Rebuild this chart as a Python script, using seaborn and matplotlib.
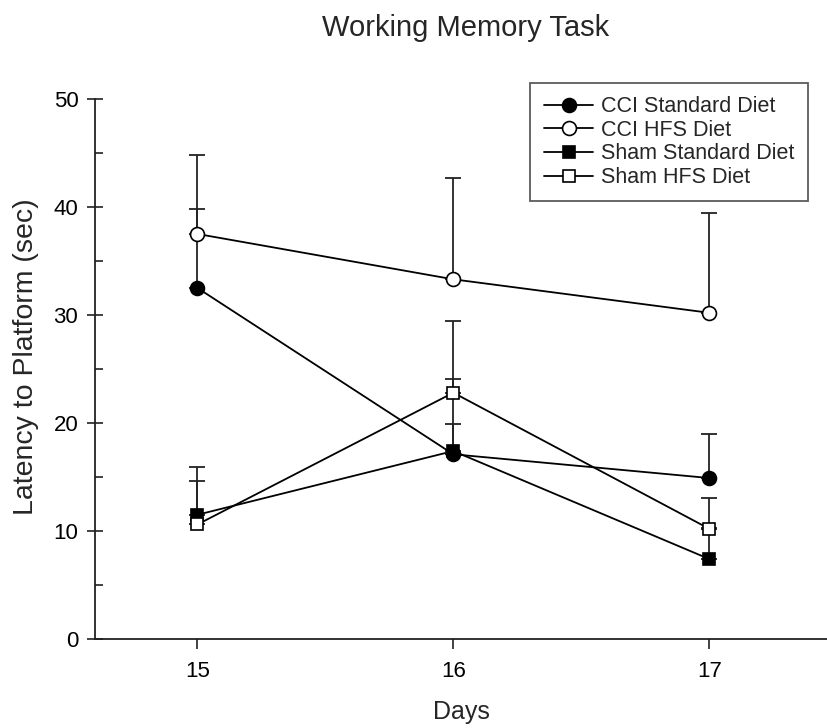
import numpy as np
import pandas as pd
import seaborn as sns
import matplotlib.pyplot as plt

# data
days = [15, 16, 17]
cci_std = [32.5, 17.1, 14.9]
cci_std_sem = [7.3, 7.0, 4.1]
cci_hfs = [37.5, 33.3, 30.2]
cci_hfs_sem = [7.3, 9.35, 9.2]
sham_std = [11.5, 17.4, 7.4]
sham_std_sem = [4.45, 2.5, 2.9]
sham_hfs = [10.6, 22.8, 10.2]
sham_hfs_sem = [4.05, 6.6, 2.85]

groups = ['CCI Standard Diet', 'CCI HFS Diet', 'Sham Standard Diet', 'Sham HFS Diet']
means = [cci_std, cci_hfs, sham_std, sham_hfs]
sems = [cci_std_sem, cci_hfs_sem, sham_std_sem, sham_hfs_sem]
markers = ['o', 'o', 's', 's']
faces = ['black', 'white', 'black', 'white']
msizes = [10, 10, 9, 9]

df = pd.DataFrame({
    'Days': np.tile(days, len(groups)),
    'Latency': np.concatenate(means),
    'SEM': np.concatenate(sems),
    'Group': np.repeat(groups, len(days)),
})

sns.set_theme(style="ticks")
plt.rcParams['font.family'] = ['Liberation Sans', 'DejaVu Sans']

fig = plt.figure(figsize=(8.27, 7.28), dpi=100)
ax = fig.add_axes([0.1149, 0.1223, 0.8851, 0.7418])

for g, m, fc, ms in zip(groups, markers, faces, msizes):
    d = df[df['Group'] == g]
    # one-sided (upper) error bars
    ax.errorbar(d['Days'], d['Latency'], yerr=[np.zeros(len(d)), d['SEM']],
                fmt='none', ecolor='#222222', elinewidth=1.3, capsize=6,
                capthick=1.3, zorder=2)
    sns.lineplot(data=d, x='Days', y='Latency', ax=ax, color='black',
                 linewidth=1.3, marker=m, markersize=ms, markerfacecolor=fc,
                 markeredgecolor='black', markeredgewidth=1.2, label=g,
                 zorder=3)

ax.set_xlim(14.6, 17.46)
ax.set_ylim(0, 50)
ax.set_xticks(days)
ax.set_yticks([0, 10, 20, 30, 40, 50])
ax.set_yticks(np.arange(5, 50, 10), minor=True)
ax.tick_params(axis='y', which='major', direction='inout', length=12, width=1.2,
               labelsize=16, pad=6, colors='#222222', labelcolor='black')
ax.tick_params(axis='y', which='minor', direction='in', length=6, width=1.2,
               color='#222222')
ax.tick_params(axis='x', which='major', direction='out', length=7, width=1.2,
               labelsize=16, pad=9, colors='#222222', labelcolor='black')
for s in ['top', 'right']:
    ax.spines[s].set_visible(False)
for s in ['left', 'bottom']:
    ax.spines[s].set_linewidth(1.3)
    ax.spines[s].set_color('#222222')

ax.set_xlabel('Days', fontsize=18, va='center')
ax.xaxis.set_label_coords(0.5, -0.135)
ax.set_ylabel('Latency to Platform (sec)', fontsize=20.5, va='center')
ax.yaxis.set_label_coords(-0.094, 0.522)
fig.text(0.5635, 0.962, 'Working Memory Task', fontsize=21, ha='center', va='center')

leg = ax.legend(loc='upper right', bbox_to_anchor=(0.974, 1.0296), fontsize=15.5,
                frameon=True, fancybox=False, edgecolor='#333333',
                handlelength=2.3, borderpad=0.62, labelspacing=0.12,
                handletextpad=0.37, borderaxespad=0)
leg.get_frame().set_linewidth(1.3)

fig.savefig('out.png', dpi=100)
